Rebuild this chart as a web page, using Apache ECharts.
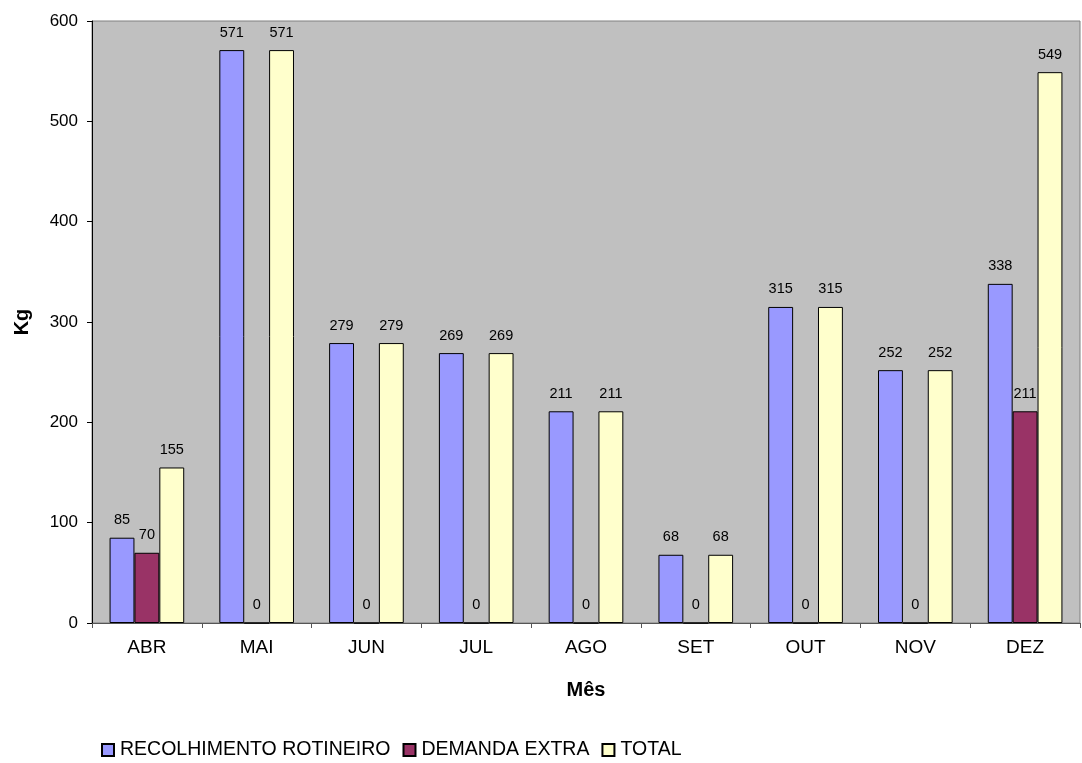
<!DOCTYPE html>
<html>
<head>
<meta charset="utf-8">
<script src="https://cdn.jsdelivr.net/npm/echarts@6/dist/echarts.min.js"></script>
<style>html,body{margin:0;padding:0;background:#fff}#c{width:1082px;height:763px}</style>
</head>
<body>
<div id="c"></div>
<script>
const categories = ['ABR','MAI','JUN','JUL','AGO','SET','OUT','NOV','DEZ'];
const recolhimento = [85,571,279,269,211,68,315,252,338];
const demanda = [70,0,0,0,0,0,0,0,211];
const total = [155,571,279,269,211,68,315,252,549];
const yTicks = [0,100,200,300,400,500,600];

const font = 'Liberation Sans, Arial, sans-serif';
const lbl = {show:true, position:'top', distance:10, color:'#000', fontSize:14.5, fontFamily:font};
const chart = echarts.init(document.getElementById('c'));
chart.setOption({
  animation:false,
  backgroundColor:'#fff',
  grid:{left:92, right:2, top:21, bottom:140, show:true, backgroundColor:'#C0C0C0', borderColor:'#808080', borderWidth:1},
  legend:{left:96, top:735, itemWidth:12, itemHeight:12, itemGap:12, icon:'rect',
    textStyle:{fontSize:19.5, fontFamily:font, color:'#000', padding:[0,0,0,1]}},
  xAxis:{type:'category', data:categories, name:'Mês', nameLocation:'middle', nameGap:57,
    nameTextStyle:{fontSize:20, fontWeight:'bold', fontFamily:font, color:'#000'},
    axisLine:{lineStyle:{color:'#555'}}, axisTick:{show:true, length:5, lineStyle:{color:'#555'}},
    axisLabel:{fontSize:19, fontFamily:font, color:'#000', margin:15}},
  yAxis:{type:'value', min:0, max:600, interval:100, name:'Kg', nameLocation:'middle', nameGap:60,
    nameTextStyle:{fontSize:20, fontWeight:'bold', fontFamily:font, color:'#000'},
    axisLine:{show:true, lineStyle:{color:'#000'}}, axisTick:{show:true, length:5, lineStyle:{color:'#000'}},
    splitLine:{show:false},
    axisLabel:{fontSize:17, fontFamily:font, color:'#000', margin:14,
      formatter:v=>yTicks.includes(v)?String(v):''}},
  series:[
    {name:'RECOLHIMENTO ROTINEIRO', type:'bar', data:recolhimento, barGap:'0%', barCategoryGap:'32%',
      itemStyle:{color:'#9999FF', borderColor:'#000', borderWidth:1}, label:lbl},
    {name:'DEMANDA EXTRA', type:'bar', data:demanda,
      itemStyle:{color:'#993366', borderColor:'#000', borderWidth:1}, label:lbl},
    {name:'TOTAL', type:'bar', data:total,
      itemStyle:{color:'#FFFFCC', borderColor:'#000', borderWidth:1}, label:lbl}
  ]
});
</script>
</body>
</html>
